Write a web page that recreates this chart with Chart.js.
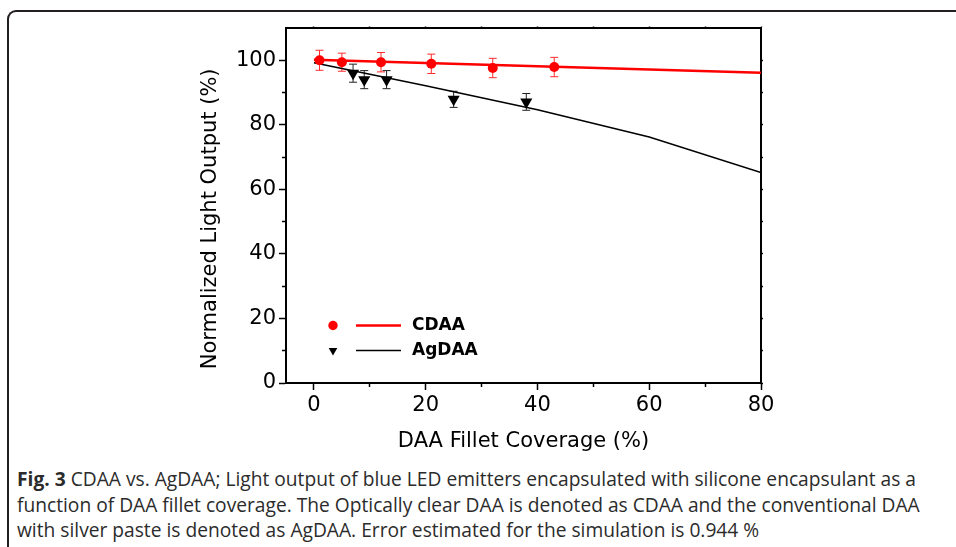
<!DOCTYPE html>
<html lang="en">
<head>
<meta charset="utf-8" />
<title>CDAA vs. AgDAA</title>
<script src="https://cdn.jsdelivr.net/npm/chart.js"></script>
<style>
    body {
        margin: 0;
        width: 956px;
        height: 547px;
        overflow: hidden;
        background: #fff;
        position: relative;
    }
    #frame {
        position: absolute;
        left: 7px;
        top: 10px;
        width: 1000px;
        height: 600px;
        border-left: 2px solid #231f20;
        border-top: 2px solid #231f20;
        border-top-left-radius: 9px;
    }
    #chart {
        position: absolute;
        left: 0;
        top: 0;
    }
    #caption {
        position: absolute;
        left: 17px;
        top: 466px;
        font-family: "Open Sans";
        font-size: 19.2px;
        line-height: 25.5px;
        color: #2b2b2b;
        white-space: nowrap;
    }
</style>
</head>
<body>
<div id="frame"></div>
<canvas id="chart" width="956" height="460"></canvas>
<div id="caption"><b>Fig. 3</b> CDAA vs. AgDAA; Light output of blue LED emitters encapsulated with silicone encapsulant as a<br>function of DAA fillet coverage. The Optically clear DAA is denoted as CDAA and the conventional DAA<br>with silver paste is denoted as AgDAA. Error estimated for the simulation is 0.944 %</div>

<script>
// measured points (DAA fillet coverage %, normalized light output %)
var cdaaX = [1, 5, 12, 21, 32, 43];
var cdaaY = [100, 99.4, 99.4, 98.9, 97.6, 97.9];
var cdaaErr = [3.1, 2.8, 3.0, 3.0, 3.0, 3.0];

var agX = [7, 9, 13, 25, 38];
var agY = [96, 94, 94, 87.9, 87.1];
var agErr = [2.8, 2.8, 2.8, 2.5, 2.6];

// simulation curves
var cdaaFitX = [0, 80];
var cdaaFitY = [100.2, 96.1];
var agFitX = [0, 20, 40, 60, 80];
var agFitY = [99.2, 92.1, 84.7, 76.2, 65.2];

// axis ticks
var xTicks = [0, 20, 40, 60, 80];
var xMinorTicks = [10, 30, 50, 70];
var xTopTicks = [0, 10, 20, 30, 40, 50, 60, 70, 80];
var yTicks = [0, 20, 40, 60, 80, 100];
var yMinorTicks = [10, 30, 50, 70, 90];
var yRightTicks = [0, 10, 20, 30, 40, 50, 60, 70, 80, 90, 100];

function pts(xs, ys) {
    return xs.map(function (x, i) { return { x: x, y: ys[i] }; });
}
function setTicks(list) {
    return function (scale) {
        scale.ticks = list.map(function (v) { return { value: v }; });
    };
}

var FONT = 'DejaVu Sans';

var errorBars = {
    id: 'errorBars',
    beforeDatasetsDraw: function (chart) {
        var ctx = chart.ctx, xs = chart.scales.x, ys = chart.scales.y;
        chart.data.datasets.forEach(function (ds) {
            if (!ds.err) return;
            ctx.save();
            ctx.strokeStyle = ds.errColor;
            ctx.lineWidth = 1;
            ds.data.forEach(function (p, i) {
                var px = xs.getPixelForValue(p.x);
                var top = ys.getPixelForValue(p.y + ds.err[i]);
                var bot = ys.getPixelForValue(p.y - ds.err[i]);
                ctx.beginPath();
                ctx.moveTo(px, top); ctx.lineTo(px, bot);
                ctx.moveTo(px - 4, top); ctx.lineTo(px + 4, top);
                ctx.moveTo(px - 4, bot); ctx.lineTo(px + 4, bot);
                ctx.stroke();
            });
            ctx.restore();
        });
    }
};

// legend inside the plot: marker, line sample, bold label
var inLegend = {
    id: 'inLegend',
    afterDraw: function (chart) {
        var ctx = chart.ctx;
        var rows = [
            { label: 'CDAA', mark: 0, line: 2, y: 325.5, r: 4.7 },
            { label: 'AgDAA', mark: 1, line: 3, y: 350.5, r: 5 }
        ];
        rows.forEach(function (row) {
            var m = chart.data.datasets[row.mark];
            var l = chart.data.datasets[row.line];
            ctx.save();
            ctx.fillStyle = m.pointBackgroundColor;
            ctx.strokeStyle = m.pointBackgroundColor;
            Chart.helpers.drawPoint(ctx, {
                pointStyle: m.pointStyle, radius: row.r,
                rotation: m.pointRotation || 0, borderWidth: 0
            }, 333, row.y);
            ctx.beginPath();
            ctx.strokeStyle = l.borderColor;
            ctx.lineWidth = l.borderWidth;
            ctx.moveTo(356, row.y);
            ctx.lineTo(401, row.y);
            ctx.stroke();
            ctx.fillStyle = '#000';
            ctx.font = 'bold 17px "' + FONT + '"';
            ctx.textBaseline = 'middle';
            ctx.fillText(row.label, 412, row.y);
            ctx.restore();
        });
    }
};

var tickFont = { family: FONT, size: 21 };

new Chart(document.getElementById('chart'), {
    type: 'scatter',
    data: {
        datasets: [{
            label: 'CDAA',
            data: pts(cdaaX, cdaaY),
            err: cdaaErr,
            errColor: '#ff2a2a',
            pointStyle: 'circle',
            pointRadius: 5,
            pointBorderWidth: 0,
            pointBackgroundColor: '#ff0000',
            pointBorderColor: '#ff0000'
        }, {
            label: 'AgDAA',
            data: pts(agX, agY),
            err: agErr,
            errColor: '#222',
            pointStyle: 'triangle',
            pointRotation: 180,
            pointRadius: 7,
            pointBorderWidth: 0,
            pointBackgroundColor: '#000',
            pointBorderColor: '#000'
        }, {
            label: 'CDAA sim',
            data: pts(cdaaFitX, cdaaFitY),
            showLine: true,
            pointRadius: 0,
            borderColor: '#ff0000',
            borderWidth: 2.5
        }, {
            label: 'AgDAA sim',
            data: pts(agFitX, agFitY),
            showLine: true,
            pointRadius: 0,
            borderColor: '#000',
            borderWidth: 1.5
        }]
    },
    options: {
        responsive: false,
        animation: false,
        events: [],
        layout: { padding: { left: 198, top: 28, right: 195, bottom: 0 } },
        plugins: {
            legend: { display: false },
            tooltip: { enabled: false }
        },
        scales: {
            x: {
                type: 'linear', position: 'bottom', min: -5, max: 80, weight: 1,
                afterBuildTicks: setTicks(xTicks),
                afterFit: function (s) { s.height = 77; },
                ticks: { font: tickFont, color: '#000', padding: 3, maxRotation: 0, autoSkip: false },
                grid: { drawOnChartArea: false, tickLength: 7, tickColor: '#000', tickWidth: 1.5 },
                border: { color: '#000', width: 2 },
                title: {
                    display: true, text: 'DAA Fillet Coverage (%)', color: '#000',
                    font: { family: FONT, size: 21 }, padding: { top: 0, bottom: 6 }
                }
            },
            xMinor: {
                type: 'linear', axis: 'x', position: 'bottom', min: -5, max: 80, weight: 0,
                afterBuildTicks: setTicks(xMinorTicks),
                afterFit: function (s) { s.height = 0; },
                ticks: { display: false },
                grid: { drawOnChartArea: false, tickLength: 4, tickColor: '#000', tickWidth: 1.5 },
                border: { display: false }
            },
            xTop: {
                type: 'linear', axis: 'x', position: 'top', min: -5, max: 80,
                afterBuildTicks: setTicks(xTopTicks),
                afterFit: function (s) { s.height = 0; },
                ticks: { display: false },
                grid: { drawOnChartArea: false, tickLength: 1.5, tickColor: '#000', tickWidth: 1.5 },
                border: { color: '#000', width: 2 }
            },
            y: {
                type: 'linear', position: 'left', min: 0, max: 110, weight: 1,
                afterBuildTicks: setTicks(yTicks),
                afterFit: function (s) { s.width = 88; },
                ticks: { font: tickFont, color: '#000', padding: 3, autoSkip: false },
                grid: { drawOnChartArea: false, tickLength: 7, tickColor: '#000', tickWidth: 1.5 },
                border: { color: '#000', width: 2 },
                title: {
                    display: true, text: 'Normalized Light Output (%)    ', color: '#000',
                    font: { family: FONT, size: 21 }, padding: 0
                }
            },
            yMinor: {
                type: 'linear', axis: 'y', position: 'left', min: 0, max: 110, weight: 0,
                afterBuildTicks: setTicks(yMinorTicks),
                afterFit: function (s) { s.width = 0; },
                ticks: { display: false },
                grid: { drawOnChartArea: false, tickLength: 4, tickColor: '#000', tickWidth: 1.5 },
                border: { display: false }
            },
            yRight: {
                type: 'linear', axis: 'y', position: 'right', min: 0, max: 110,
                afterBuildTicks: setTicks(yRightTicks),
                afterFit: function (s) { s.width = 0; },
                ticks: { display: false },
                grid: { drawOnChartArea: false, tickLength: 2, tickColor: '#000', tickWidth: 1.5 },
                border: { color: '#000', width: 2 }
            }
        }
    },
    plugins: [errorBars, inLegend]
});
</script>
</body>
</html>
